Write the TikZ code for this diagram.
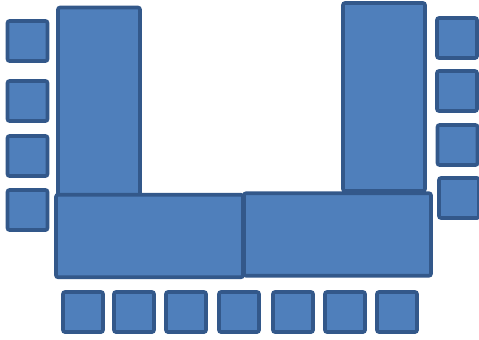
\documentclass[tikz,border=0pt]{standalone}
\usepackage{tikz}
\usetikzlibrary{positioning}
\definecolor{seatfill}{HTML}{4F7FBB}
\definecolor{seatedge}{HTML}{33588A}
\tikzset{
    furniture/.style={draw=seatedge, fill=seatfill, line width=2.1pt, rounded corners=1.2pt, inner sep=0pt},
    chair/.style={furniture, minimum width=0.8cm, minimum height=0.8cm},
    tallboard/.style={furniture, minimum width=1.64cm, minimum height=3.76cm},
    wideboard/.style={furniture, minimum width=3.74cm, minimum height=1.65cm}
}

\begin{document}
\begin{tikzpicture}[x=0.02cm, y=-0.02cm]
    \useasboundingbox (0,0) rectangle (479,339);

    % --- Tables ---
    \node[tallboard] (tleft) at (99,101.5) {};
    \node[tallboard] (tright) at (384,97) {};
    \node[wideboard] (bleft) at (149.5,236) {};
    \node[wideboard] (bright) at (337.5,234.5) {};

    % --- Chairs on the left ---
    \foreach \y [count=\i] in {41,101,156,210}
        \node[chair] (cl\i) at (27.5,\y) {};

    % --- Chairs on the right ---
    \foreach \y/\x [count=\i] in {38/457,91/457,145/457.5,198/459}
        \node[chair] (cr\i) at (\x,\y) {};

    % --- Chairs along the bottom ---
    \foreach \x [count=\i] in {83,134,186,239,293,345,397}
        \node[chair] (cb\i) at (\x,312) {};

\end{tikzpicture}
\end{document}
